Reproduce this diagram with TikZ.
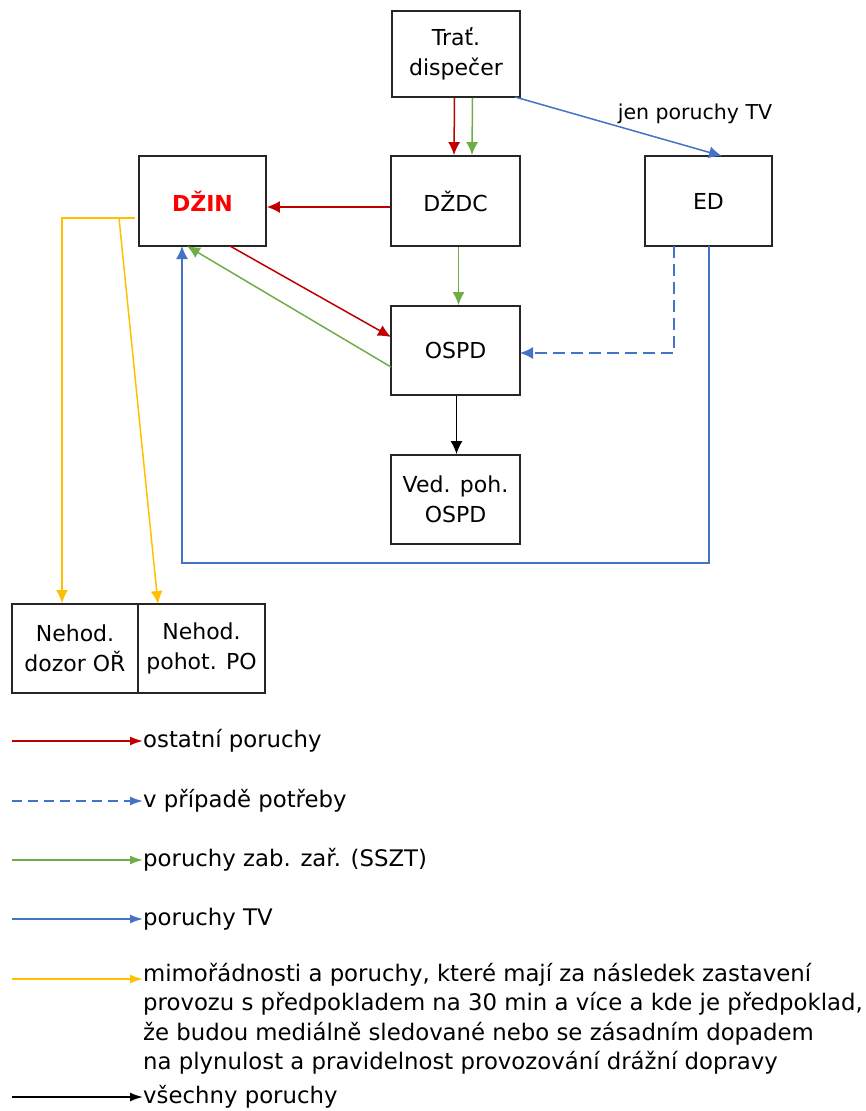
\documentclass[tikz,border=0pt]{standalone}
\usepackage{fontspec}
\setmainfont{DejaVu Sans}
\usetikzlibrary{arrows.meta}
\definecolor{cred}{HTML}{C00000}
\definecolor{cgreen}{HTML}{70AD47}
\definecolor{cblue}{HTML}{4472C4}
\definecolor{cyellow}{HTML}{FFC000}
\definecolor{cbox}{HTML}{262626}
\begin{document}
\begin{tikzpicture}[x=1pt,y=-1pt,
  font=\fontsize{22}{30}\selectfont,
  box/.style={draw=cbox, line width=1.8pt, align=center, inner sep=0pt, fill=white},
  ar/.style={line width=1.5pt, -{Latex[length=13pt,width=12pt]}},
  lar/.style={line width=1.6pt, -{Latex[length=13pt,width=9pt]}},
  ltext/.style={anchor=west, inner sep=0pt, align=left, font=\fontsize{22.8}{29.3}\selectfont}
]
\useasboundingbox (0,0) rectangle (866,1111);

% boxes
\node[box, minimum width=128pt, minimum height=86pt] (trat) at (456,54) {Trať.\\dispečer};
\node[box, minimum width=127pt, minimum height=90pt, text=red, font=\fontsize{22}{30}\selectfont\bfseries] (dzin) at (202.5,201) {DŽIN};
\node[box, minimum width=129pt, minimum height=90pt] (dzdc) at (455.5,201) {DŽDC};
\node[box, minimum width=127pt, minimum height=90pt] (ed) at (708.5,201) {ED};
\node[box, minimum width=129pt, minimum height=89pt] (ospd) at (455.5,350.5) {OSPD};
\node[box, minimum width=129pt, minimum height=89pt] (ved) at (455.5,499.5) {Ved. poh.\\OSPD};
\node[box, minimum width=126pt, minimum height=89pt] (neh1) at (75,648.5) {Nehod.\\dozor OŘ};
\node[box, minimum width=127pt, minimum height=89pt] (neh2) at (201.5,648.5) {Nehod.\\pohot. PO};

% helper coordinates
\coordinate (tb) at (515,97);
\coordinate (edtip) at (722,156);
\coordinate (r1) at (230,246);
\coordinate (r2) at (391,337);
\coordinate (g1) at (391,367);
\coordinate (g2) at (187,246);
\coordinate (bs) at (709,246);
\coordinate (bc1) at (709,563);
\coordinate (bc2) at (182,563);
\coordinate (bd) at (182,246);
\coordinate (ds) at (674,246);
\coordinate (dc) at (674,353);
\coordinate (de) at (520,353);
\coordinate (ya) at (135,218);
\coordinate (yb) at (62,218);
\coordinate (yc) at (119,218);
\coordinate (yd) at (158,604);

% connectors
\draw[ar,cred] ([xshift=-1.5pt]trat.south) -- ([xshift=-1.5pt]dzdc.north);
\draw[ar,cgreen] ([xshift=16.5pt]trat.south) -- ([xshift=16.5pt]dzdc.north);
\draw[ar,cblue] (tb) -- (edtip);
\node[black, font=\fontsize{20.5}{24}\selectfont, inner sep=0pt] (lbl) at (695,114) {jen poruchy TV};
\draw[ar,cred] ([yshift=-6pt]dzdc.west) -- ([yshift=-6pt]dzin.east);
\draw[ar,cgreen] ([xshift=3pt]dzdc.south) -- ([xshift=3pt]ospd.north);
\draw[ar,cred] (r1) -- (r2);
\draw[ar,cgreen] (g1) -- (g2);
\draw[ar,cblue] (bs) -- (bc1) -- (bc2) -- (bd);
\draw[ar,cblue,dashed,dash pattern=on 12pt off 6pt] (ds) -- (dc) -- (de);
\draw[ar,black] ([xshift=1pt]ospd.south) -- ([xshift=1pt]ved.north);
\draw[ar,cyellow] (ya) -- (yb) -- (yb |- neh1.north);
\draw[ar,cyellow] (yc) -- (yd);

% legend
\node[ltext] (t1) at (143,741) {ostatní poruchy};
\node[ltext] (t2) at (143,801) {v případě potřeby};
\node[ltext] (t3) at (143,860) {poruchy zab. zař. (SSZT)};
\node[ltext] (t4) at (143,919) {poruchy TV};
\node[ltext, anchor=north west] (t5) at (143,963) {mimořádnosti a poruchy, které mají za následek zastavení\\provozu s předpokladem na 30 min a více a kde je předpoklad,\\že budou mediálně sledované nebo se zásadním dopadem\\na plynulost a pravidelnost provozování drážní dopravy};
\node[ltext] (t6) at (143,1097) {všechny poruchy};

\coordinate (l1) at (12,741);
\coordinate (l2) at (12,801);
\coordinate (l3) at (12,860);
\coordinate (l4) at (12,919);
\coordinate (l5) at (12,979);
\coordinate (l5e) at (143,979);
\coordinate (l6) at (12,1097);
\draw[lar,cred] (l1) -- (t1.west);
\draw[lar,cblue,dashed,dash pattern=on 10pt off 6pt] (l2) -- (t2.west);
\draw[lar,cgreen] (l3) -- (t3.west);
\draw[lar,cblue] (l4) -- (t4.west);
\draw[lar,cyellow] (l5) -- (l5e);
\draw[lar,black] (l6) -- (t6.west);
\end{tikzpicture}
\end{document}
